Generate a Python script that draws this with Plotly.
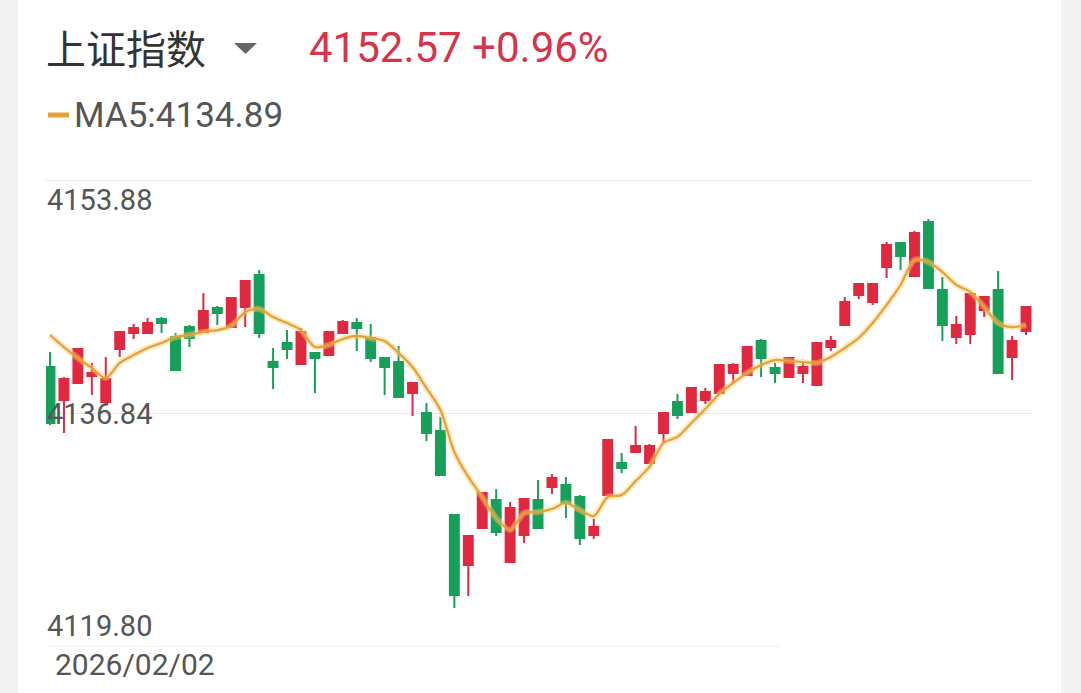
import plotly.graph_objects as go

# ---------------- data ----------------
idx = list(range(71))

open_ = [4140.23, 4137.83, 4139.07, 4139.58, 4137.68, 4141.55, 4142.71, 4142.71, 4143.74, 4142.42,
         4143.15, 4142.79, 4144.54, 4143.15, 4144.61, 4146.95, 4140.60, 4141.99, 4140.45, 4141.26,
         4141.11, 4142.71, 4143.44, 4142.35, 4140.89, 4140.60, 4138.34, 4136.88, 4135.56, 4129.43,
         4125.78, 4128.48, 4130.53, 4126.00, 4127.97, 4130.53, 4131.48, 4131.62, 4130.75, 4127.97,
         4130.89, 4133.23, 4134.03, 4133.23, 4135.42, 4137.68, 4136.95, 4137.83, 4138.34, 4139.80,
         4139.65, 4142.13, 4140.16, 4139.50, 4139.80, 4138.92, 4141.69, 4143.30, 4145.49, 4144.98,
         4147.53, 4149.28, 4146.87, 4150.82, 4145.85, 4142.42, 4142.64, 4144.39, 4145.85, 4140.96,
         4142.86]
high = [4141.33, 4139.50, 4141.62, 4140.53, 4140.96, 4142.86, 4143.37, 4143.81, 4143.88, 4142.71,
        4143.30, 4145.63, 4144.69, 4145.34, 4146.58, 4147.31, 4141.62, 4142.93, 4143.08, 4141.33,
        4142.86, 4143.66, 4143.81, 4143.37, 4140.96, 4141.77, 4139.14, 4137.61, 4136.58, 4129.51,
        4127.97, 4131.11, 4131.33, 4130.38, 4130.67, 4131.99, 4132.42, 4132.21, 4130.89, 4129.14,
        4134.98, 4133.96, 4135.93, 4134.61, 4136.95, 4138.26, 4138.77, 4138.70, 4140.45, 4140.53,
        4141.77, 4142.28, 4140.53, 4140.96, 4140.53, 4142.06, 4142.50, 4145.34, 4146.36, 4146.36,
        4149.36, 4149.36, 4150.16, 4151.03, 4146.80, 4143.96, 4145.63, 4145.41, 4147.24, 4142.50,
        4144.69]
low = [4136.00, 4135.42, 4138.99, 4138.19, 4137.53, 4140.96, 4142.28, 4142.64, 4142.71, 4139.94,
       4141.69, 4142.71, 4143.30, 4143.08, 4143.15, 4142.35, 4138.63, 4140.82, 4140.38, 4138.34,
       4141.04, 4142.64, 4141.40, 4140.60, 4138.19, 4137.97, 4136.66, 4134.83, 4132.28, 4122.65,
       4123.52, 4128.41, 4127.90, 4125.93, 4127.39, 4128.41, 4130.97, 4129.21, 4127.24, 4127.68,
       4130.82, 4132.50, 4133.96, 4133.16, 4134.69, 4136.44, 4136.88, 4137.53, 4138.26, 4139.07,
       4139.58, 4139.50, 4139.07, 4139.43, 4139.07, 4138.85, 4141.40, 4143.23, 4145.20, 4144.76,
       4146.73, 4147.31, 4146.80, 4145.93, 4142.13, 4141.91, 4141.91, 4143.88, 4139.72, 4139.29,
       4142.57]
close = [4136.15, 4139.36, 4141.55, 4139.80, 4139.36, 4142.79, 4143.08, 4143.44, 4143.44, 4140.01,
         4142.35, 4144.32, 4144.17, 4145.27, 4146.51, 4142.71, 4140.23, 4141.55, 4142.79, 4140.89,
         4142.79, 4143.52, 4143.08, 4140.89, 4140.23, 4138.04, 4139.07, 4135.42, 4132.35, 4123.59,
         4127.90, 4131.04, 4128.19, 4129.94, 4130.60, 4128.48, 4132.13, 4130.31, 4127.76, 4128.56,
         4134.91, 4132.86, 4134.47, 4134.47, 4136.88, 4136.73, 4138.70, 4138.41, 4140.38, 4140.38,
         4141.69, 4140.89, 4139.80, 4140.89, 4140.23, 4141.99, 4142.13, 4144.98, 4146.29, 4146.29,
         4149.14, 4148.33, 4150.01, 4146.00, 4143.30, 4143.30, 4145.56, 4145.34, 4139.80, 4142.13,
         4144.61]
ma5 = [4142.57, 4141.69, 4140.89, 4140.16, 4139.43, 4140.53, 4141.11, 4141.62, 4141.99, 4142.42,
       4142.57, 4142.79, 4142.93, 4143.23, 4144.25, 4144.47, 4143.88, 4143.44, 4142.93, 4141.69,
       4141.84, 4142.28, 4142.50, 4142.35, 4142.13, 4141.26, 4140.23, 4138.70, 4137.10, 4134.03,
       4132.21, 4130.75, 4129.21, 4128.34, 4129.58, 4129.65, 4129.87, 4130.31, 4129.80, 4129.36,
       4130.75, 4130.89, 4131.91, 4132.94, 4134.69, 4135.13, 4136.15, 4137.17, 4138.26, 4139.07,
       4139.80, 4140.38, 4140.74, 4140.67, 4140.60, 4140.53, 4140.96, 4141.62, 4142.35, 4143.44,
       4144.76, 4146.22, 4148.04, 4147.90, 4147.17, 4146.22, 4145.71, 4144.61, 4143.44, 4143.15,
       4143.30]

y_ticks = [4153.88, 4136.84, 4119.80]
y_tick_labels = ["4153.88", "4136.84", "4119.80"]
date_label = "2026/02/02"
title_text = "上证指数"
price_text = "4152.57 +0.96%"
ma_text = "MA5:4134.89"

# ---------------- layout geometry ----------------
W, H = 1081, 693
ML, MR, MT, MB = 46, 48, 180, 46
PW, PH = W - ML - MR, H - MT - MB


def PX(px):
    return (px - ML) / PW


def PY(py):
    return (H - MB - py) / PH


RED = "#E0283E"
GREEN = "#16A05A"
ORANGE = "#E6A236"
GRAY_TXT = "#555555"
GRID = "#E8E8E8"

fig = go.Figure()

fig.add_trace(go.Candlestick(
    x=idx, open=open_, high=high, low=low, close=close,
    increasing=dict(line=dict(color=RED, width=2), fillcolor=RED),
    decreasing=dict(line=dict(color=GREEN, width=2), fillcolor=GREEN),
    whiskerwidth=0, showlegend=False, hoverinfo="skip",
))

# MA5 halo + line
fig.add_trace(go.Scatter(
    x=idx, y=ma5, mode="lines",
    line=dict(color="rgba(246,205,110,0.45)", width=6, shape="spline", smoothing=0.8),
    showlegend=False, hoverinfo="skip",
))
fig.add_trace(go.Scatter(
    x=idx, y=ma5, mode="lines",
    line=dict(color=ORANGE, width=2.2, shape="spline", smoothing=0.8),
    showlegend=False, hoverinfo="skip",
))

shapes = []
# horizontal grid lines
grid_ends = [1.0, 1.0, PX(780)]
grid_widths = [2, 1.2, 1.2]
for yv, xe, lw in zip(y_ticks, grid_ends, grid_widths):
    shapes.append(dict(type="line", xref="paper", yref="y", x0=0, x1=xe, y0=yv, y1=yv,
                       line=dict(color=GRID, width=lw), layer="below"))
# side strips of the screenshot frame
shapes.append(dict(type="rect", xref="paper", yref="paper", x0=PX(0), x1=PX(18), y0=PY(H), y1=PY(0),
                   fillcolor="#F2F2F2", line=dict(width=0), layer="below"))
shapes.append(dict(type="rect", xref="paper", yref="paper", x0=PX(1061), x1=PX(W), y0=PY(H), y1=PY(0),
                   fillcolor="#F2F2F2", line=dict(width=0), layer="below"))
# dropdown triangle
tri = f"M {PX(234)} {PY(43)} L {PX(257)} {PY(43)} L {PX(245.5)} {PY(54)} Z"
shapes.append(dict(type="path", xref="paper", yref="paper", path=tri,
                   fillcolor="#666666", line=dict(width=0)))
# MA5 legend dash
shapes.append(dict(type="line", xref="paper", yref="paper", x0=PX(48), x1=PX(69), y0=PY(115), y1=PY(115),
                   line=dict(color=ORANGE, width=5)))

annotations = [
    dict(text=title_text, x=PX(44), y=PY(47), xref="paper", yref="paper", xanchor="left", yanchor="middle",
         showarrow=False, font=dict(family="Noto Sans CJK SC", size=40, color="#333333")),
    dict(text=price_text, x=PX(307), y=PY(47), xref="paper", yref="paper", xanchor="left", yanchor="middle",
         showarrow=False, font=dict(family="Roboto", size=42, color="#D7334A")),
    dict(text=ma_text, x=PX(72), y=PY(115), xref="paper", yref="paper", xanchor="left", yanchor="middle",
         showarrow=False, font=dict(family="Roboto", size=35, color=GRAY_TXT)),
    dict(text=date_label, x=PX(53), y=PY(664), xref="paper", yref="paper", xanchor="left", yanchor="middle",
         showarrow=False, font=dict(family="Roboto", size=30, color=GRAY_TXT)),
]
label_shift = [-20, 0, 21]
for yv, lab, sh in zip(y_ticks, y_tick_labels, label_shift):
    annotations.append(dict(text=lab, x=PX(45), y=yv, xref="paper", yref="y", yshift=sh,
                            xanchor="left", yanchor="middle", showarrow=False,
                            font=dict(family="Roboto", size=29, color=GRAY_TXT)))

fig.update_layout(
    width=W, height=H,
    margin=dict(l=ML, r=MR, t=MT, b=MB, pad=0),
    paper_bgcolor="white", plot_bgcolor="white",
    xaxis=dict(range=[-0.287, 70.5], visible=False, rangeslider=dict(visible=False), fixedrange=True),
    yaxis=dict(range=[y_ticks[-1], y_ticks[0]], visible=False, fixedrange=True),
    boxgap=0.36, boxgroupgap=0,
    shapes=shapes, annotations=annotations,
    showlegend=False,
)

fig.write_html("out.html", config={"displayModeBar": False},
               post_script="document.body.style.margin='0';document.body.style.overflow='hidden';")
